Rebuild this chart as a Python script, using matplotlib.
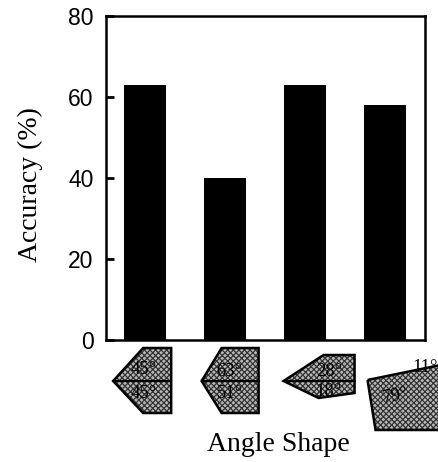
import matplotlib.pyplot as plt
from matplotlib.patches import Polygon
from matplotlib.transforms import Affine2D, ScaledTranslation

# data
shapes = ["45/45", "63/51", "28/18", "11/79"]
accuracy = [63, 40, 63, 58]
upper_angles = ["45°", "63°", "28°", "11°"]
lower_angles = ["45°", "51°", "18°", "79°"]
yticks = [0, 20, 40, 60, 80]

# outline of each angle glyph, pixel offsets from (tick x, axis bottom)
outlines = [
    [(-32, -41), (-2, -8), (26, -8), (26, -73), (-2, -73)],
    [(-23.5, -41), (-3.5, -8), (33.5, -8), (33.5, -73), (-3.5, -73)],
    [(-21.5, -41), (18.5, -15), (49.5, -15), (49.5, -53), (13.5, -58)],
    [(-17.5, -40), (75, -21), (75, -90), (-9.5, -90)],
]
midlines = [
    [(-32, -41), (26, -41)],
    [(-23.5, -41), (33.5, -41)],
    [(-21.5, -41), (49.5, -41)],
    None,
]
upper_pos = [(-1, -29), (4.5, -31), (24, -31), (40, -27)]
lower_pos = [(-1, -54), (4.5, -54), (23, -51), (11, -56)]
lower_rot = [0, 0, 0, 12]

plt.rcParams['hatch.linewidth'] = 0.9

fig = plt.figure(figsize=(4.39, 4.62), dpi=100)
ax = fig.add_axes([106 / 439, 122 / 462, 319 / 439, 324 / 462])

x = list(range(len(shapes)))
ax.bar(x, accuracy, width=0.52, color="black")
ax.set_xlim(-0.49, 3.5)
ax.set_ylim(0, 80)
ax.set_yticks(yticks)
ax.set_xticks([])
ax.tick_params(axis="y", direction="in", length=6, width=2, pad=9, labelsize=16.5)
for lab in ax.get_yticklabels():
    lab.set_fontfamily("Liberation Sans")
for sp in ax.spines.values():
    sp.set_linewidth(1.8)

ax.set_ylabel("Accuracy (%)", family="Liberation Serif", fontsize=20)
ax.yaxis.set_label_coords(-0.197, 0.48)
ax.set_xlabel("Angle Shape", family="Liberation Serif", fontsize=20)
ax.xaxis.set_label_coords(0.54, -0.285)

px = Affine2D().scale(1 / 100) + fig.dpi_scale_trans
for i in x:
    tr = px + ScaledTranslation(i, 0, ax.get_xaxis_transform())
    ax.add_patch(Polygon(outlines[i], closed=True, transform=tr, clip_on=False,
                         facecolor="#b8b8b8", edgecolor="#333333", hatch="xxxxxx",
                         linewidth=0))
    ax.add_patch(Polygon(outlines[i], closed=True, transform=tr, clip_on=False,
                         fill=False, edgecolor="black", linewidth=1.8))
    if midlines[i]:
        (x0, y0), (x1, y1) = midlines[i]
        ax.plot([x0, x1], [y0, y1], color="black", lw=1.5, transform=tr, clip_on=False)
    ax.text(*upper_pos[i], upper_angles[i], transform=tr, ha="center", va="center",
            family="Liberation Serif", fontsize=13.5)
    ax.text(*lower_pos[i], lower_angles[i], transform=tr, ha="center", va="center",
            family="Liberation Serif", fontsize=13.5, rotation=lower_rot[i])

fig.savefig("out.png", dpi=100)
